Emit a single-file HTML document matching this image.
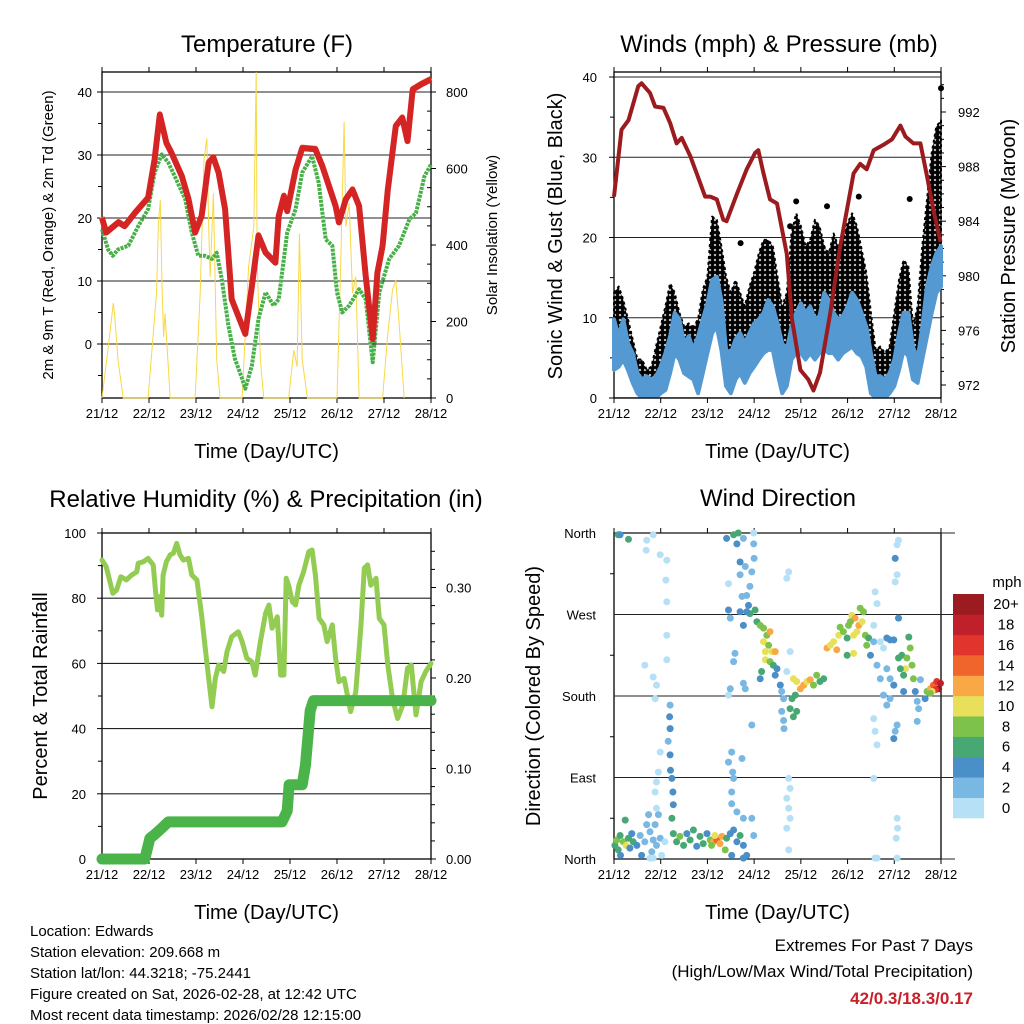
<!DOCTYPE html>
<html><head><meta charset="utf-8"><style>
html,body{margin:0;padding:0;background:#fff;}
svg{display:block;font-family:"Liberation Sans",sans-serif;}
</style></head><body>
<svg id="chart" width="1024" height="1024" viewBox="0 0 1024 1024" xmlns="http://www.w3.org/2000/svg">
<defs>
<pattern id="gustdots" width="5" height="5" patternUnits="userSpaceOnUse">
<circle cx="2.5" cy="2.5" r="2.7" fill="#000"/>
</pattern>
</defs>
<g id="layer"></g>
</svg>
<script>
// ---------- DATA ----------
const dayLabels = ["21/12","22/12","23/12","24/12","25/12","26/12","27/12","28/12"];
// Temperature (F)
const tDay = [0,0.09,0.35,0.48,0.7,0.98,1.12,1.23,1.37,1.48,1.7,1.84,1.98,2.12,2.27,2.37,2.48,2.62,2.76,2.98,3.05,3.19,3.33,3.48,3.69,3.76,3.87,3.94,4.12,4.26,4.54,4.69,4.97,5.04,5.19,5.33,5.47,5.61,5.76,5.86,5.97,6.08,6.25,6.39,6.5,6.61,6.79,7];
const tVal = [20,17.7,19.3,18.7,20.8,23.2,29.3,36.4,31.9,30.3,26.6,23,17.7,20.3,28.8,29.6,27.2,21.4,7.1,2.9,1.6,9.2,17.2,14.5,12.9,20.3,23.5,21.1,27.7,31.1,30.9,28.2,21.9,19.3,23,24.5,21.9,10.8,0.8,11.3,15.6,24.5,34.6,35.9,32.2,40.4,41.2,42];
const tdDay = [0,0.13,0.23,0.34,0.56,0.77,0.98,1.12,1.27,1.41,1.55,1.77,1.91,2.05,2.19,2.34,2.44,2.55,2.69,2.83,2.98,3.05,3.19,3.33,3.48,3.65,3.76,3.94,4.12,4.26,4.47,4.61,4.76,4.9,5.0,5.11,5.26,5.47,5.61,5.76,5.9,6.11,6.32,6.54,6.68,6.86,7];
const tdVal = [18.2,15,14,15,15.6,18.7,21.4,27.2,30.1,28.8,26.6,23,17.7,14,14,13.5,14.5,10.3,2.9,-2.4,-5.5,-7.1,-3.4,4,8.2,6.1,7.1,17.7,21.4,27.2,29.8,25.6,16.6,15.6,8.2,5,6.1,8.7,7.1,-2.9,8.2,13.5,15.6,19.8,20.8,26.6,28.5];
const solDay = [0,0.15,0.24,0.27,0.34,0.45, 0.98,1.16,1.2,1.24,1.28,1.31,1.34,1.45, 1.98,2.09,2.17,2.23,2.27,2.3,2.37,2.44,2.51, 2.98,3.12,3.23,3.28,3.3,3.37,3.44, 3.97,4.08,4.15,4.2,4.26,4.37, 5.0,5.08,5.15,5.19,5.26,5.33,5.4,5.47, 5.97,6.08,6.18,6.25,6.32,6.43];
const solVal = [0,150,248,215,100,0, 0,274,457,518,274,160,221,0, 0,274,622,679,448,317,535,100,0, 0,343,448,852,360,100,0, 0,125,82,430,100,0, 0,360,722,448,509,274,317,0, 0,169,282,308,200,0];
// Winds (mph) & Pressure (mb)
const wDay = [0,0.1,0.2,0.3,0.4,0.5,0.6,0.7,0.8,0.9,1.0,1.1,1.2,1.3,1.4,1.5,1.6,1.7,1.8,1.9,2.0,2.1,2.2,2.3,2.4,2.5,2.6,2.7,2.8,2.9,3.0,3.1,3.2,3.3,3.4,3.5,3.6,3.7,3.8,3.9,4.0,4.1,4.2,4.3,4.4,4.5,4.6,4.7,4.8,4.9,5.0,5.1,5.2,5.3,5.4,5.5,5.6,5.7,5.8,5.9,6.0,6.1,6.2,6.3,6.4,6.5,6.6,6.7,6.8,6.9,7.0];
const sonicHi = [9.8,7.7,9.8,6.8,5.6,3.1,2.3,2.7,2.3,2.7,3.9,5.6,7.7,10.6,9.8,6.8,7.7,6.0,7.7,9.8,11.8,14.7,15.1,12.2,6.0,5.6,7.3,8.1,6.8,8.1,9.3,9.8,10.6,12.2,11.4,9.3,6.8,6.0,8.9,10.6,11.8,10.6,11.4,9.8,10.2,13.1,12.2,10.6,9.8,10.2,11.4,13.1,12.2,10.6,8.9,5.6,2.7,2.7,2.3,3.1,4.8,8.1,10.6,10.6,6.4,4.8,8.9,13.9,16.4,18.0,18.9];
const sonicLo = [3.5,3.9,4.8,3.5,1.9,0.6,0,0.2,0,0,0.6,1.0,3.1,5.6,4.8,3.1,2.7,2.3,0.6,3.1,5.6,8.1,8.9,6.0,1.5,0.6,2.3,3.1,1.9,3.1,3.9,4.8,5.6,6.0,6.0,3.1,0.6,1.5,4.8,5.6,5.6,4.8,5.6,4.8,5.6,6.0,5.6,5.6,4.8,5.6,6.0,6.4,5.6,5.2,3.9,0.6,0,0.2,0,0.6,1.5,3.5,6.0,5.2,2.3,1.9,4.8,7.7,10.6,13.1,13.9];
const gustHi = [13.1,13.9,12.2,9.8,7.3,4.8,4.8,3.5,3.9,6.4,8.9,11.4,14.3,13.1,10.6,8.9,9.3,8.9,9.8,13.5,15.1,22.6,22.2,18.9,15.1,13.1,14.7,13.1,11.4,13.9,15.6,18.0,19.7,19.7,18.9,15.1,11.4,13.1,20.5,23.0,21.4,18.9,19.7,22.2,21.4,18.9,18.0,20.5,18.9,19.7,21.8,23.0,21.4,18.5,15.6,10.6,6.0,6.4,5.6,6.4,10.6,14.7,17.2,16.4,8.9,11.4,18.9,24.7,30.5,33.8,34.6];
const gustOutDay = [6.33,7.0,2.71,3.77,4.56,5.24,3.9];
const gustOutVal = [24.8,38.6,19.3,21.4,23.9,25.1,24.5];
const pDay = [0,0.16,0.31,0.52,0.59,0.77,0.88,1.06,1.2,1.34,1.45,1.63,1.77,1.95,2.06,2.2,2.34,2.41,2.63,2.84,3.02,3.09,3.2,3.34,3.49,3.7,3.81,3.99,4.16,4.27,4.41,4.63,4.84,5.13,5.27,5.41,5.56,5.77,5.95,6.13,6.24,6.41,6.56,6.7,6.84,6.99];
const pVal = [985.8,990.7,991.4,993.9,994.1,993.4,992.4,992.3,991.2,989.7,990.1,988.8,987.5,985.8,985.8,985.6,984.1,984,986,987.8,989,989.2,987.5,985.6,985.3,981.6,976.8,973.1,972.4,971.6,972.9,977.3,982.1,987.5,988.2,987.8,989.2,989.6,990,991,990.2,989.7,989.7,987.3,984.8,982.5];
// Relative humidity (%) & precipitation (in)
const rhDay = [0,0.09,0.16,0.23,0.31,0.4,0.52,0.63,0.74,0.77,0.88,0.98,1.09,1.14,1.18,1.23,1.27,1.3,1.37,1.45,1.52,1.59,1.66,1.73,1.84,1.91,2.02,2.12,2.19,2.27,2.34,2.41,2.48,2.59,2.66,2.76,2.9,2.98,3.08,3.19,3.26,3.37,3.48,3.55,3.62,3.73,3.8,3.87,3.92,3.97,4.05,4.12,4.19,4.29,4.4,4.47,4.54,4.62,4.72,4.79,4.9,4.97,5.04,5.15,5.29,5.4,5.51,5.58,5.65,5.72,5.83,5.9,6.0,6.08,6.18,6.29,6.4,6.5,6.58,6.68,6.79,6.89,7];
const rhVal = [91.7,89.7,85.6,81.5,82.5,86.6,85.6,87.1,88.1,90.7,91.2,92.2,90.2,82,76.4,80.5,74.8,87.1,91.2,93.3,93.8,96.8,93.3,91.7,92.2,87.1,85.6,74.8,65.6,55.4,46.7,55.4,59.5,57.5,63.6,68.2,69.7,66.7,61.6,60.5,56.4,66.7,75.4,77.9,70.8,74.3,56.4,56.4,86.1,84,78.9,77.9,84,88.1,94.3,94.8,87.1,73.8,71.8,66.7,71.8,61.6,54.4,55.4,45.2,51.3,71.8,89.2,90.2,84,86.1,73.8,71.8,59.5,49.3,43.1,47.2,58.5,59.5,44.2,54.4,57.5,60];
const prDay = [0,0.91,1.02,1.12,1.27,1.41,3.83,3.94,3.98,4.26,4.33,4.43,4.5,7];
const prVal = [0,0,0.023,0.027,0.034,0.041,0.041,0.053,0.082,0.082,0.104,0.164,0.175,0.175];
// Wind direction observations: [day, direction deg, speed mph]
const windDirObs = [
[0.02,15,6],[0.06,21,8],[0.09,10,6],[0.13,26,7],[0.14,4,5],[0.2,19,9],[0.24,43,6],[0.26,15,10],[0.31,23,6],[0.34,12,5],[0.38,28,4],[0.41,19,6],[0.49,15,4],[0.56,26,3],[0.59,4,4],[0.66,19,3],[0.7,38,3],[0.74,49,2],[0.77,30,2],[0.81,8,3],[0.84,21,2],[0.88,38,2],[0.91,15,3],[0.95,49,2],[0.99,23,2],[1.02,4,1],[1.09,19,1],[0.77,1,1],[0.84,1,1],
[0.66,214,1],[0.84,201,1],[0.91,192,1],[0.88,177,1],[0.99,118,1],[0.95,96,1],[0.91,85,1],[0.88,74,1],[0.91,56,1],
[1.2,170,3],[1.19,157,4],[1.2,144,4],[1.16,130,3],[1.2,115,4],[1.21,98,4],[1.24,89,4],[1.26,74,4],[1.27,60,5],[1.24,45,6],
[0.7,352,1],[0.69,341,1],[0.84,358,0],[0.99,336,1],[1.13,330,1],[1.11,308,1],[1.13,284,1],[1.13,247,1],[1.13,220,1],
[0.09,358,6],[0.13,358,5],[0.31,353,6],
[1.27,28,6],[1.34,19,7],[1.41,25,8],[1.49,15,6],[1.56,28,5],[1.63,21,7],[1.7,32,6],[1.77,14,5],[1.84,25,7],[1.91,17,6],[1.99,28,5],[2.06,21,8],[2.13,19,12],[2.2,21,14],[2.27,17,13],[2.16,26,10],[2.09,15,9],[2.31,25,12],[2.38,10,8],[2.41,23,6],[2.49,28,4],[2.56,32,4],[2.63,19,5],[2.7,26,6],[2.77,15,4],[2.84,4,4],[2.52,4,4],[2.77,1,4],
[2.45,107,2],[2.52,118,2],[2.74,111,2],[2.54,96,3],[2.56,89,3],[2.52,74,3],[2.52,61,3],[2.63,52,3],[2.77,45,3],[2.95,45,2],[2.99,26,2],[2.95,148,2],[2.45,181,1],[2.49,188,2],[2.56,218,2],[2.59,227,3],[2.77,194,2],[2.81,188,2],
[2.41,354,4],[2.56,358,6],[2.66,360,7],[2.63,348,4],[2.77,354,2],[2.99,360,1],[2.99,348,2],[3.0,332,2],[2.7,328,4],[2.81,323,2],[2.7,314,3],[2.95,317,2],[2.91,301,2],[2.84,291,3],[2.74,290,2],[2.88,280,4],[2.91,271,6],[2.84,273,4],[3.02,275,7],[2.45,275,4],[2.49,266,3],[2.7,273,4],[2.77,258,4],[2.45,304,1],
[3.06,262,6],[3.13,258,8],[3.2,255,8],[3.27,247,9],[3.34,251,12],[3.2,240,10],[3.24,229,10],[3.31,236,8],[3.38,229,11],[3.45,229,12],[3.24,220,10],[3.34,218,8],[3.41,214,7],[3.49,210,5],[3.16,207,6],[3.13,199,4],[3.45,203,4],[3.56,192,4],[3.59,185,3],[3.63,177,3],[3.59,163,3],[3.63,153,3],[3.64,144,3],
[3.7,207,1],[3.77,229,1],[3.7,310,1],[3.74,317,1],[3.84,199,10],[3.91,196,11],[3.99,188,12],[4.06,192,12],[4.13,196,10],[4.2,198,13],[4.27,192,9],[4.34,203,8],[4.41,196,7],[4.49,199,6],[3.81,177,6],[3.88,181,7],[3.77,166,6],[3.84,157,6],[3.91,163,7],
[3.74,89,1],[3.77,78,1],[3.7,67,1],[3.74,56,1],[3.77,45,1],[3.7,34,1],[3.74,10,1],
[4.56,233,12],[4.63,236,11],[4.7,240,10],[4.77,231,12],[4.81,247,10],[4.84,256,8],[4.91,251,9],[4.99,244,7],[5.02,258,9],[5.09,269,11],[5.16,266,12],[5.2,251,10],[5.24,258,12],[5.31,262,11],[5.34,273,9],[5.27,277,8],[5.06,262,9],[5.13,247,10],[5.38,247,9],[5.41,236,8],[5.45,244,7],[4.99,225,6],[5.13,227,10],
[5.49,225,4],[5.56,240,2],[5.7,240,1],[5.77,233,1],[5.84,244,4],[5.63,214,2],[5.7,199,2],[5.84,210,2],[5.91,199,2],[5.99,192,4],[5.77,181,2],[5.84,170,2],[5.91,177,2],[5.56,155,1],[5.59,141,1],[5.63,126,1],[6.02,141,2],[5.99,133,4],[6.06,148,2],[5.56,89,1],[5.59,295,1],[5.63,282,1],[6.02,332,4],[6.06,347,1],[6.09,352,1],[6.02,306,1],[6.06,314,1],[6.09,266,4],[5.91,242,4],[5.99,242,4],[5.56,258,1],[6.09,222,6],[6.16,225,7],[6.27,222,9],[6.31,245,7],[6.34,233,8],[6.38,214,9],[6.24,210,10],[6.13,210,7],[6.2,203,6],[6.41,199,8],[6.2,185,4],[6.56,198,3],[6.45,185,4],[6.49,174,3],[6.52,166,2],[6.49,152,2],[6.66,177,4],[6.7,185,8],[6.77,188,12],[6.84,192,14],[6.91,196,16],[6.99,194,18],[6.95,188,20],[6.88,187,16],[6.81,185,10],[6.77,183,8],
[6.06,45,1],[6.07,34,1],[6.04,23,1],[6.06,1,1],[5.59,1,1],[5.63,1,1]
];
const speedBins = ["0","2","4","6","8","10","12","14","16","18","20+"];
const speedColors = ["#b5e0f5","#7ab8e4","#4a8fc8","#48a873","#7dc24a","#e8e05a","#f8a946","#f0652b","#e0342c","#c0202a","#9b1b20"];

// ---------- HELPERS ----------
const NS="http://www.w3.org/2000/svg";
const root=document.getElementById('layer');
function mk(tag,attrs,parent){const e=document.createElementNS(NS,tag);for(const k in attrs)e.setAttribute(k,attrs[k]);(parent||root).appendChild(e);return e;}
function txt(s,x,y,size,anchor,parent,extra){const e=mk('text',Object.assign({x:x,y:y,'font-size':size,'text-anchor':anchor||'middle',fill:'#000'},extra||{}),parent);e.textContent=s;return e;}
function linePts(xs,ys,fx,fy){return xs.map((d,i)=>fx(d).toFixed(1)+','+fy(ys[i]).toFixed(1)).join(' ');}

function frame(x0,x1,y0,y1,name){
  const g=mk('g',{});
  
  
  mk('rect',{x:x0,y:y0,width:x1-x0,height:y1-y0,fill:'none',stroke:'#000','stroke-width':1.3},g);
  const xs=d=>x0+d*(x1-x0)/7;
  for(let i=0;i<8;i++){
    const x=xs(i);
    mk('line',{x1:x,y1:y1,x2:x,y2:y1+5,stroke:'#000','stroke-width':1},g);
    mk('line',{x1:x,y1:y0,x2:x,y2:y0-5,stroke:'#000','stroke-width':1},g);
    const t=txt(dayLabels[i],x,y1+20,13,'middle',g);
    
    
  }
  const xt=txt('Time (Day/UTC)',(x0+x1)/2,y1+60,20,'middle',g);
  
  
  return xs;
}
function hgrid(x0,x1,y,g){mk('line',{x1:x0,y1:y,x2:x1,y2:y,stroke:'#222','stroke-width':1.1},g);}

// ---------- PANEL 1: TEMPERATURE ----------
(function(){
  const x0=102,x1=431,y0=72,y1=398;
  const fx=frame(x0,x1,y0,y1,'temperature');
  const fy=v=>344-v*6.3, fs=v=>398-v*0.3825;
  const g=mk('g',{});
  
  
  [0,10,20,30,40].forEach(v=>{hgrid(x0,x1,fy(v),g);mk('line',{x1:x0-5,y1:fy(v),x2:x0,y2:fy(v),stroke:'#000'},g);
    const t=txt(String(v),x0-10,fy(v)+5,13,'end',g);});
  [-5,5,15,25,35].forEach(v=>mk('line',{x1:x0-4,y1:fy(v),x2:x0,y2:fy(v),stroke:'#000'},g));
  [0,200,400,600,800].forEach(v=>{mk('line',{x1:x1,y1:fs(v),x2:x1+5,y2:fs(v),stroke:'#000'},g);
    const t=txt(String(v),x1+15,fs(v)+5,13,'start',g);});
  for(let v=50;v<850;v+=50){if(v%200)mk('line',{x1:x1-4,y1:fs(v),x2:x1,y2:fs(v),stroke:'#000'},g);}
  const sol=mk('polyline',{points:linePts(solDay,solVal,fx,fs),fill:'none',stroke:'#f8d845','stroke-width':1},g);
  
  const td=mk('polyline',{points:linePts(tdDay,tdVal,fx,fy),fill:'none',stroke:'#48b048','stroke-width':4,'stroke-dasharray':'3 1','stroke-linejoin':'round'},g);
  
  const t9=mk('polyline',{points:linePts(tDay,tVal,fx,v=>fy(v)-1),fill:'none',stroke:'#f0702e','stroke-width':5,'stroke-linejoin':'round'},g);
  
  const t2=mk('polyline',{points:linePts(tDay,tVal,fx,fy),fill:'none',stroke:'#d42424','stroke-width':6,'stroke-linejoin':'round'},g);
  
  const ti=txt('Temperature (F)',267,52,24,'middle',g);
  const yl=txt('2m & 9m T (Red, Orange) & 2m Td (Green)',0,0,15,'middle',g,{transform:'translate(53,235) rotate(-90)'});
  
  const yr=txt('Solar Insolation (Yellow)',0,0,15,'middle',g,{transform:'translate(497,235) rotate(-90)'});
  
})();

// ---------- PANEL 2: WINDS ----------
(function(){
  const x0=614,x1=941,y0=72,y1=398;
  const fx=frame(x0,x1,y0,y1,'winds');
  const fy=v=>398-v*8.025, fp=v=>385-(v-972)*13.65;
  const g=mk('g',{});
  
  
  [10,20,30,40].forEach(v=>hgrid(x0,x1,fy(v),g));
  [0,10,20,30,40].forEach(v=>{mk('line',{x1:x0-5,y1:fy(v),x2:x0,y2:fy(v),stroke:'#000'},g);
    const t=txt(String(v),x0-17,fy(v)+5,13,'end',g);});
  [5,15,25,35].forEach(v=>mk('line',{x1:x0-4,y1:fy(v),x2:x0,y2:fy(v),stroke:'#000'},g));
  [972,976,980,984,988,992].forEach(v=>{mk('line',{x1:x1,y1:fp(v),x2:x1+5,y2:fp(v),stroke:'#000'},g);
    const t=txt(String(v),x1+17,fp(v)+5,13,'start',g);});
  for(let v=972;v<=994;v++){if(v%4)mk('line',{x1:x1,y1:fp(v),x2:x1+3,y2:fp(v),stroke:'#000'},g);}
  // gust band (dotted texture)
  const gp=wDay.map((d,i)=>fx(d).toFixed(1)+','+fy(gustHi[i]).toFixed(1)).join(' ')+' '+wDay.slice().reverse().map((d,j)=>{const i=wDay.length-1-j;return fx(d).toFixed(1)+','+fy(sonicLo[i]).toFixed(1);}).join(' ');
  const gb=mk('polygon',{points:gp,fill:'url(#gustdots)',stroke:'#000','stroke-width':2,'stroke-dasharray':'3 3','stroke-linejoin':'round'},g);
  
  gustOutDay.forEach((d,i)=>{const c=mk('circle',{cx:fx(d),cy:fy(gustOutVal[i]),r:3,fill:'#000'},g);
    });
  const sp=wDay.map((d,i)=>fx(d).toFixed(1)+','+fy(sonicHi[i]).toFixed(1)).join(' ')+' '+wDay.slice().reverse().map((d,j)=>{const i=wDay.length-1-j;return fx(d).toFixed(1)+','+fy(sonicLo[i]).toFixed(1);}).join(' ');
  const sb=mk('polygon',{points:sp,fill:'#5499d2',stroke:'#5499d2','stroke-width':4,'stroke-linejoin':'round'},g);
  
  mk('rect',{x:x0-8,y:y1+0.7,width:x1-x0+16,height:8,fill:'#fff'},g);
  const pl=mk('polyline',{points:linePts(pDay,pVal,fx,fp),fill:'none',stroke:'#9b1b1e','stroke-width':4,'stroke-linejoin':'round'},g);
  
  mk('line',{x1:x0,y1:y1,x2:x1,y2:y1,stroke:'#000','stroke-width':1.3},g);
  [0,1,2,3,4,5,6,7].forEach(i=>mk('line',{x1:fx(i),y1:y1,x2:fx(i),y2:y1+5,stroke:'#000'},g));
  const ti=txt('Winds (mph) & Pressure (mb)',779,52,24,'middle',g);
  const yl=txt('Sonic Wind & Gust (Blue, Black)',0,0,20,'middle',g,{transform:'translate(562,236) rotate(-90)'});
  
  const yr=txt('Station Pressure (Maroon)',0,0,20,'middle',g,{transform:'translate(1015,236) rotate(-90)'});
  
})();

// ---------- PANEL 3: RH & PRECIP ----------
(function(){
  const x0=102,x1=431,y0=533,y1=859;
  const fx=frame(x0,x1,y0,y1,'humidity');
  const fy=v=>859-v*3.26, fp=v=>859-v*905;
  const g=mk('g',{});
  
  
  [20,40,60,80].forEach(v=>hgrid(x0,x1,fy(v),g));
  [0,20,40,60,80,100].forEach(v=>{mk('line',{x1:x0-5,y1:fy(v),x2:x0,y2:fy(v),stroke:'#000'},g);
    const t=txt(String(v),x0-16,fy(v)+5,13,'end',g);});
  [10,30,50,70,90].forEach(v=>mk('line',{x1:x0-4,y1:fy(v),x2:x0,y2:fy(v),stroke:'#000'},g));
  [0,0.1,0.2,0.3].forEach(v=>{mk('line',{x1:x1,y1:fp(v),x2:x1+5,y2:fp(v),stroke:'#000'},g);
    const t=txt(v.toFixed(2),x1+15,fp(v)+5,13,'start',g);});
  for(let v=0.02;v<0.36;v+=0.02){mk('line',{x1:x1,y1:fp(v),x2:x1+4,y2:fp(v),stroke:'#000'},g);}
  const rh=mk('polyline',{points:linePts(rhDay,rhVal,fx,fy),fill:'none',stroke:'#93cc52','stroke-width':5,'stroke-linejoin':'round','stroke-linecap':'round'},g);
  
  const pr=mk('polyline',{points:linePts(prDay,prVal,fx,fp),fill:'none',stroke:'#4ab44a','stroke-width':11,'stroke-linejoin':'round','stroke-linecap':'round'},g);
  
  const ti=txt('Relative Humidity (%) & Precipitation (in)',266,507,24,'middle',g);
  const yl=txt('Percent & Total Rainfall',0,0,20,'middle',g,{transform:'translate(47,696) rotate(-90)'});
  
})();

// ---------- PANEL 4: WIND DIRECTION ----------
(function(){
  const x0=614,x1=941,y0=533,y1=859;
  const fx=frame(x0,x1,y0,y1,'wind-direction');
  const fy=v=>859-v*326/360;
  const g=mk('g',{});
  
  
  const names=['North','East','South','West','North'];
  [0,90,180,270,360].forEach((v,i)=>{hgrid(x0,x1+14,fy(v),g);
    const t=txt(names[i],x0-18,fy(v)+5,13,'end',g);});
  [45,135,225,315].forEach(v=>mk('line',{x1:x0-4,y1:fy(v),x2:x0,y2:fy(v),stroke:'#000'},g));
  windDirObs.forEach(o=>{
    const b=Math.min(10,Math.floor(o[2]/2));
    const c=mk('circle',{cx:fx(o[0]).toFixed(1),cy:fy(o[1]).toFixed(1),r:3.5,fill:speedColors[b]},g);
    
    
  });
  const ti=txt('Wind Direction',778,506,24,'middle',g);
  const yl=txt('Direction (Colored By Speed)',0,0,20,'middle',g,{transform:'translate(540,696) rotate(-90)'});
  
  // colorbar
  const cb=mk('g',{});
  
  
  const bh=224/11;
  speedBins.forEach((lab,i)=>{
    const yy=818-(i+1)*bh;
    const r=mk('rect',{x:953,y:yy.toFixed(1),width:31,height:(bh+0.3).toFixed(1),fill:speedColors[i]},cb);
    
    
    const t=txt(lab,1006,yy+bh/2+5,15,'middle',cb);
    
    
  });
  const u=txt('mph',1007,587,15,'middle',cb);
  
  
})();

// ---------- FOOTER ----------
(function(){
  const g=mk('g',{});
  
  
  ["Location: Edwards","Station elevation: 209.668 m","Station lat/lon: 44.3218; -75.2441","Figure created on Sat, 2026-02-28, at 12:42 UTC","Most recent data timestamp: 2026/02/28 12:15:00"].forEach((s,i)=>{
    const t=txt(s,30,936+i*21,15,'start',g);
    
    
  });
  const e=mk('g',{});
  
  
  txt('Extremes For Past 7 Days',973,951,17,'end',e);
  txt('(High/Low/Max Wind/Total Precipitation)',973,977,17,'end',e);
  txt('42/0.3/18.3/0.17',973,1004,17,'end',e,{fill:'#c8202a','font-weight':'bold'});
})();
</script>
</body></html>
